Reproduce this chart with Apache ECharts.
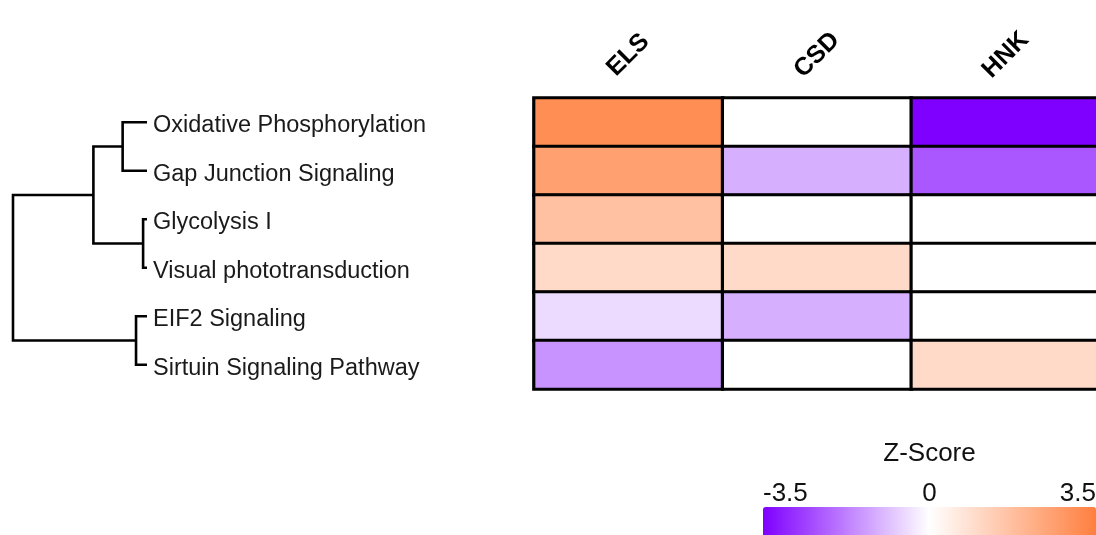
<!DOCTYPE html>
<html>
<head>
<meta charset="utf-8">
<title>Pathway Z-Score Heatmap</title>
<script src="https://cdn.jsdelivr.net/npm/echarts@6/dist/echarts.min.js"></script>
<style>
  html, body { margin: 0; padding: 0; background: #ffffff; }
  #chart { width: 1096px; height: 535px; }
</style>
</head>
<body>
<div id="chart"></div>
<script>
// Pathways (rows, top to bottom) and conditions (columns)
const pathways = [
  'Oxidative Phosphorylation',
  'Gap Junction Signaling',
  'Glycolysis I',
  'Visual phototransduction',
  'EIF2 Signaling',
  'Sirtuin Signaling Pathway'
];
const conditions = ['ELS', 'CSD', 'HNK'];

// Activation z-scores per condition, one value per pathway
const zELS = [3.1, 2.6, 1.7, 1.0, -0.5, -1.5];
const zCSD = [0, -1.1, 0, 1.0, -1.1, 0];
const zHNK = [-3.5, -2.3, 0, 0, 0, 1.0];

// Hierarchical clustering of the pathways: [childA, childB, height]
// indices 0..5 are pathways, 6.. refer to earlier merges in this list
const merges = [
  [0, 1, 1.0],
  [2, 3, 0.16],
  [4, 5, 0.45],
  [6, 7, 2.2],
  [9, 8, 5.5]
];

// Colour scale limits and legend ticks
const zMin = -3.5;
const zMax = 3.5;
const zTicks = [-3.5, 0, 3.5];

// ---- build series data ----
const columns = [zELS, zCSD, zHNK];
const heatData = [];
columns.forEach((vals, c) => {
  vals.forEach((v, r) => heatData.push([c, r, v]));
});

// Dendrogram brackets: [height, yA, yB, heightA, heightB]
const nodeY = pathways.map((_, i) => i);
const nodeH = pathways.map(() => 0);
const bracketData = [];
merges.forEach(([a, b, h]) => {
  const ya = nodeY[a], yb = nodeY[b];
  bracketData.push([h, ya, yb, nodeH[a], nodeH[b]]);
  nodeY.push((ya + yb) / 2);
  nodeH.push(h);
});

const FONT = "'Liberation Sans', Arial, Helvetica, sans-serif";

const chart = echarts.init(document.getElementById('chart'), null, { renderer: 'canvas' });

chart.setOption({
  animation: false,
  backgroundColor: '#ffffff',
  textStyle: { fontFamily: FONT },
  grid: [
    { left: 534, top: 98, width: 566, height: 291, containLabel: false, outerBoundsMode: 'none' },  // heatmap
    { left: 13, top: 98, width: 134, height: 291, containLabel: false, outerBoundsMode: 'none' },   // dendrogram
    { left: 763, top: 507, width: 333, height: 28, containLabel: false, outerBoundsMode: 'none' }   // colour legend ticks
  ],
  xAxis: [
    {
      type: 'category', gridIndex: 0, position: 'top', data: conditions,
      axisLine: { show: false }, axisTick: { show: false }, splitLine: { show: false },
      axisLabel: {
        rotate: -45, margin: 43, align: 'center', verticalAlign: 'middle',
        fontFamily: FONT, fontSize: 25, fontWeight: 'bold', color: '#000'
      }
    },
    { type: 'value', gridIndex: 1, min: 0, max: 5.5, inverse: true, show: false },
    {
      type: 'value', gridIndex: 2, position: 'top',
      min: zMin, max: zMax, interval: 3.5,
      name: 'Z-Score', nameLocation: 'middle', nameGap: 40,
      nameTextStyle: { fontFamily: FONT, fontSize: 26, color: '#111' },
      axisLine: { show: false }, axisTick: { show: false }, splitLine: { show: false },
      axisLabel: {
        margin: 0, fontFamily: FONT, fontSize: 26, color: '#111',
        alignMinLabel: 'left', alignMaxLabel: 'right',
        formatter: v => (zTicks.includes(v) ? String(v) : '')
      }
    }
  ],
  yAxis: [
    { type: 'category', gridIndex: 0, data: pathways, inverse: true, show: false },
    { type: 'value', gridIndex: 1, min: -0.5, max: 5.5, inverse: true, show: false },
    {
      type: 'category', gridIndex: 1, data: pathways, inverse: true, position: 'right',
      axisLine: { show: false }, axisTick: { show: false }, splitLine: { show: false },
      axisLabel: {
        margin: 6, verticalAlign: 'top', lineHeight: 7,
        fontFamily: FONT, fontSize: 23.5, color: '#1a1a1a'
      }
    },
    { type: 'value', gridIndex: 2, show: false }
  ],
  visualMap: {
    type: 'continuous',
    seriesIndex: 0,
    min: zMin, max: zMax,
    orient: 'horizontal',
    left: 763, top: 507,
    itemWidth: 30, itemHeight: 333,
    padding: 0,
    calculable: false,
    showLabel: false,
    text: null,
    inRange: { color: ['#7F00FF', '#FFFFFF', '#FF7F3F'] }
  },
  series: [
    {
      type: 'heatmap',
      xAxisIndex: 0, yAxisIndex: 0,
      data: heatData,
      itemStyle: { borderColor: '#000', borderWidth: 3.2 },
      emphasis: { disabled: true },
      label: { show: false }
    },
    {
      type: 'custom',
      xAxisIndex: 1, yAxisIndex: 1,
      data: bracketData,
      encode: { x: 0, y: 1 },
      silent: true,
      renderItem: function (params, api) {
        const h = api.value(0), ya = api.value(1), yb = api.value(2);
        const ha = api.value(3), hb = api.value(4);
        const p0 = api.coord([ha, ya]);
        const p1 = api.coord([h, ya]);
        const p2 = api.coord([h, yb]);
        const p3 = api.coord([hb, yb]);
        return {
          type: 'polyline',
          shape: { points: [p0, p1, p2, p3] },
          style: { stroke: '#000', lineWidth: 2.6, fill: null, lineJoin: 'miter' }
        };
      }
    }
  ]
});
</script>
</body>
</html>
